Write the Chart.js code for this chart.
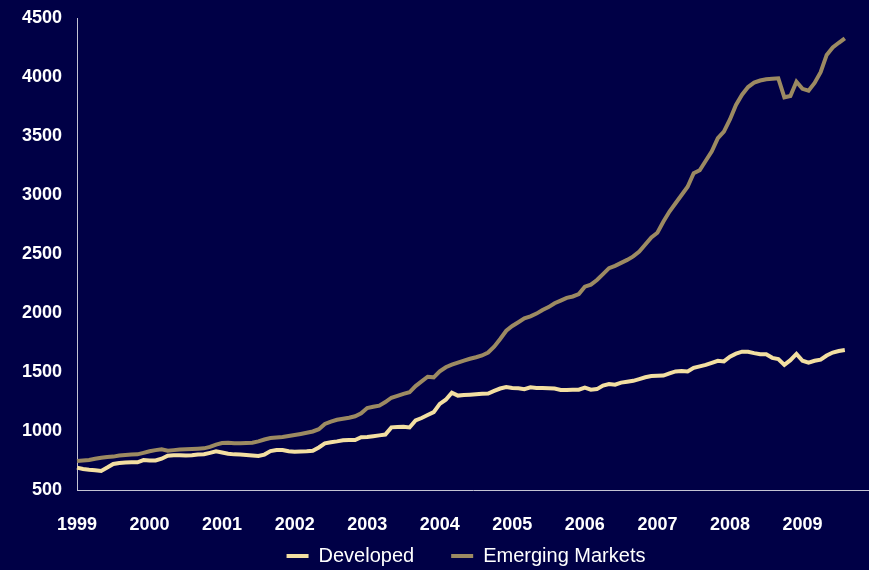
<!DOCTYPE html>
<html>
<head>
<meta charset="utf-8">
<script src="https://cdn.jsdelivr.net/npm/chart.js@4/dist/chart.umd.min.js"></script>
<style>
  html, body { margin: 0; padding: 0; background: #000046; }
  #wrap { width: 869px; height: 570px; }
</style>
</head>
<body>
<div id="wrap"><canvas id="chart" width="869" height="570"></canvas></div>
<script>
const years = ["1999", "2000", "2001", "2002", "2003", "2004", "2005", "2006", "2007", "2008", "2009"];
const yTicks = [500, 1000, 1500, 2000, 2500, 3000, 3500, 4000, 4500];

// monthly, Jan 1999 .. Aug 2009
const developed = [
  690, 678, 672, 668, 662, 690, 720, 728, 733, 735, 735, 754,
  750, 750, 765, 791, 795, 795, 793, 795, 800, 803, 815, 828,
  818, 808, 802, 800, 796, 792, 788, 800, 830, 839, 839, 828,
  825, 826, 828, 832, 860, 895, 905, 912, 922, 924, 924, 947,
  950, 956, 963, 970, 1031, 1033, 1036, 1030, 1090, 1110, 1135, 1160,
  1230, 1265, 1325, 1300, 1305, 1308, 1312, 1315, 1318, 1340, 1360, 1372,
  1365, 1362, 1355, 1370, 1365, 1365, 1362, 1360, 1348, 1348, 1350, 1350,
  1368, 1350, 1355, 1385, 1398, 1392, 1410, 1418, 1425, 1440, 1455, 1466,
  1468, 1470, 1488, 1505, 1508, 1505, 1535, 1548, 1560, 1578, 1595, 1590,
  1630, 1655, 1672, 1672, 1660, 1650, 1650, 1620, 1610, 1560, 1600, 1653,
  1595, 1580, 1595, 1605, 1640, 1665, 1678, 1686
];
const emerging = [
  746, 750, 754, 765, 774, 780, 783, 792, 797, 800, 802, 815,
  828, 838, 845, 833, 838, 843, 845, 848, 850, 853, 865, 885,
  898, 901, 896, 897, 899, 901, 912, 928, 941, 945, 950, 958,
  966, 975, 985, 996, 1015, 1060, 1080, 1095, 1103, 1112, 1125, 1150,
  1195, 1205, 1215, 1245, 1282, 1298, 1315, 1328, 1381, 1420, 1460, 1455,
  1505, 1540, 1562, 1580, 1597, 1612, 1625, 1640, 1665, 1715, 1780, 1850,
  1890, 1922, 1955, 1972, 1995, 2026, 2050, 2083, 2105, 2128, 2140, 2160,
  2223, 2240, 2280, 2330, 2380, 2400, 2425, 2450, 2480, 2520, 2580, 2640,
  2680, 2775, 2860, 2930, 3000, 3070, 3184, 3210, 3290, 3370, 3481, 3537,
  3640, 3763, 3850, 3915, 3952, 3970, 3981, 3985, 3989, 3828, 3839, 3960,
  3900, 3884, 3950, 4040, 4187, 4250, 4290, 4328
];

const monthNames = ["Jan", "Feb", "Mar", "Apr", "May", "Jun", "Jul", "Aug", "Sep", "Oct", "Nov", "Dec"];
const labels = years.flatMap(y => monthNames.map(m => m + " " + y));

const font = "'Liberation Sans', Arial, sans-serif";
const axisColor = "#c4c4d4";

new Chart(document.getElementById("chart"), {
  type: "line",
  data: {
    labels,
    datasets: [
      {
        label: "Developed",
        data: developed,
        borderColor: "#f3dfa2",
        backgroundColor: "#f3dfa2",
        borderWidth: 4,
        pointRadius: 0,
        tension: 0,
        order: 1
      },
      {
        label: "Emerging Markets",
        data: emerging,
        borderColor: "#9c8a62",
        backgroundColor: "#9c8a62",
        borderWidth: 4,
        pointRadius: 0,
        tension: 0,
        order: 2
      }
    ]
  },
  options: {
    responsive: false,
    animation: false,
    layout: { padding: { left: 0, right: 0, top: 18, bottom: -6 } },
    plugins: {
      tooltip: { enabled: false },
      legend: {
        position: "bottom",
        fullSize: false,
        labels: {
          color: "#ffffff",
          font: { family: font, size: 20 },
          usePointStyle: true,
          pointStyle: "line",
          pointStyleWidth: 22,
          padding: 37
        }
      }
    },
    scales: {
      x: {
        type: "category",
        offset: false,
        grid: { display: false, drawTicks: false },
        border: { display: true, color: axisColor, width: 1 },
        ticks: {
          autoSkip: false,
          maxRotation: 0,
          mirror: true,   // keeps labels from being clipped to the short axis box
          padding: -46,
          color: "#ffffff",
          font: { family: font, size: 18, weight: "bold" },
          callback: (val, i) => (i % 12 === 0 ? years[i / 12] : "")
        },
        afterFit: s => { s.height = 19; s.paddingLeft = 0; s.paddingRight = 0; }
      },
      y: {
        min: 500,
        max: 4500,
        grid: { display: false, drawTicks: false },
        border: { display: true, color: axisColor, width: 1 },
        afterBuildTicks: s => { s.ticks = yTicks.map(v => ({ value: v })); },
        ticks: {
          padding: 15,
          color: "#ffffff",
          font: { family: font, size: 18, weight: "bold" },
          callback: v => String(v)
        },
        afterFit: s => { s.width = 77; s.paddingTop = 0; s.paddingBottom = 0; }
      }
    }
  },
  plugins: [{
    id: "bg",
    beforeDraw(chart) {
      const ctx = chart.ctx;
      ctx.save();
      ctx.fillStyle = "#000046";
      ctx.fillRect(0, 0, chart.width, chart.height);
      ctx.restore();
    }
  }, {
    id: "legendShift",
    afterLayout(chart) {
      // nudge legend a little left, like the original
      chart.legend.left -= 7;
      chart.legend.right -= 7;
    }
  }]
});
</script>
</body>
</html>
